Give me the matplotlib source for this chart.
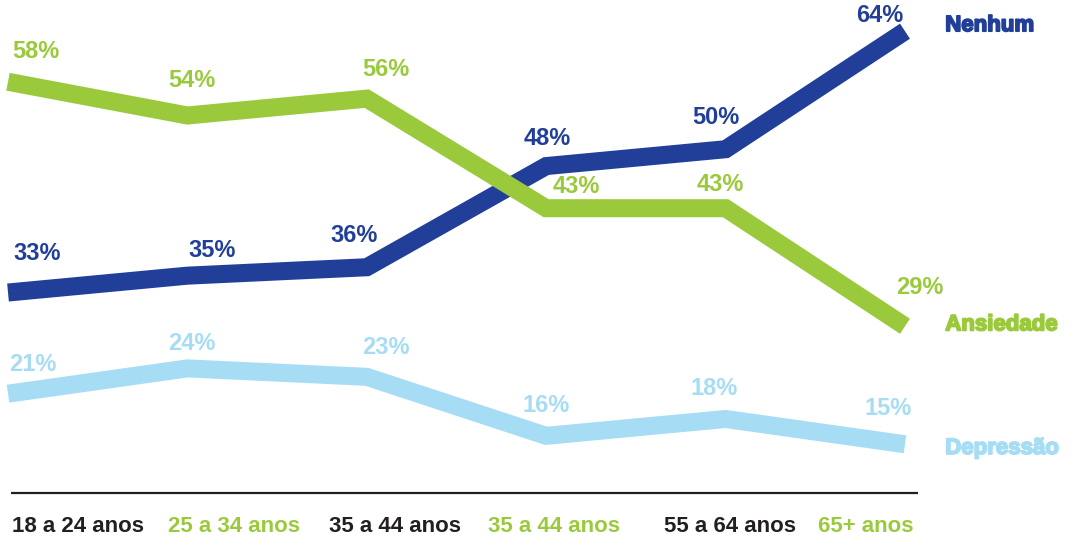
import matplotlib
matplotlib.use("Agg")
import matplotlib.pyplot as plt
import matplotlib.patheffects as pe

faixas = ['18 a 24 anos', '25 a 34 anos', '35 a 44 anos', '35 a 44 anos', '55 a 64 anos', '65+ anos']
nenhum = [33, 35, 36, 48, 50, 64]
ansiedade = [58, 54, 56, 43, 43, 29]
depressao = [21, 24, 23, 16, 18, 15]

azul = '#213f99'
verde = '#9aca3c'
celeste = '#a6ddf5'
preto = '#231f20'

series = [
    ('Nenhum', nenhum, azul),
    ('Ansiedade', ansiedade, verde),
    ('Depressão', depressao, celeste),
]

# deslocamento dos rótulos (pontos)
offsets = {
    'Nenhum': [(21, 28), (18, 18), (-9, 23), (1, 20), (-7, 23), (-18, 11)],
    'Ansiedade': [(20, 22), (3, 25), (14, 21), (22, 16), (-4, 17), (11, 28)],
    'Depressão': [(18, 21), (3, 18), (14, 21), (0, 22), (-8, 22), (-12, 26)],
}
nome_dy = {'Nenhum': 4, 'Ansiedade': 1, 'Depressão': -3}

plt.rcParams['font.family'] = ['Liberation Sans', 'DejaVu Sans']

fig = plt.figure(figsize=(10.79, 5.37), dpi=100)
ax = fig.add_axes([0, 0, 1, 1])
x = list(range(len(faixas)))

for nome, vals, cor in series:
    ax.plot(x, vals, color=cor, linewidth=13, solid_capstyle='butt',
            solid_joinstyle='miter')
    for i, v in enumerate(vals):
        ax.annotate('{}%'.format(v), (i, v), xytext=offsets[nome][i],
                    textcoords='offset points', ha='center', va='center',
                    fontsize=17, fontweight='bold', color=cor)
    t = ax.annotate(nome, (x[-1], vals[-1]), xytext=(29, nome_dy[nome]),
                    textcoords='offset points', ha='left', va='center',
                    fontsize=16, fontweight='bold', color=cor)
    t.set_path_effects([pe.withStroke(linewidth=1.3, foreground=cor)])

ax.plot([0.0102, 0.851], [0.082, 0.082], transform=ax.transAxes,
        color=preto, linewidth=1.6, solid_capstyle='butt')

tick_x = [12, 168, 329, 488, 664, 818]
for i, lab in enumerate(faixas):
    ax.text(tick_x[i] / 1079, 1 - 526 / 537, lab, transform=ax.transAxes,
            ha='left', va='center', fontsize=16, fontweight='bold',
            color=preto if i % 2 == 0 else verde)

ax.set_xlim(-0.0446, 5.97)
ax.set_ylim(4.0, 67.7)
ax.axis('off')

fig.savefig('out.png', dpi=100)
